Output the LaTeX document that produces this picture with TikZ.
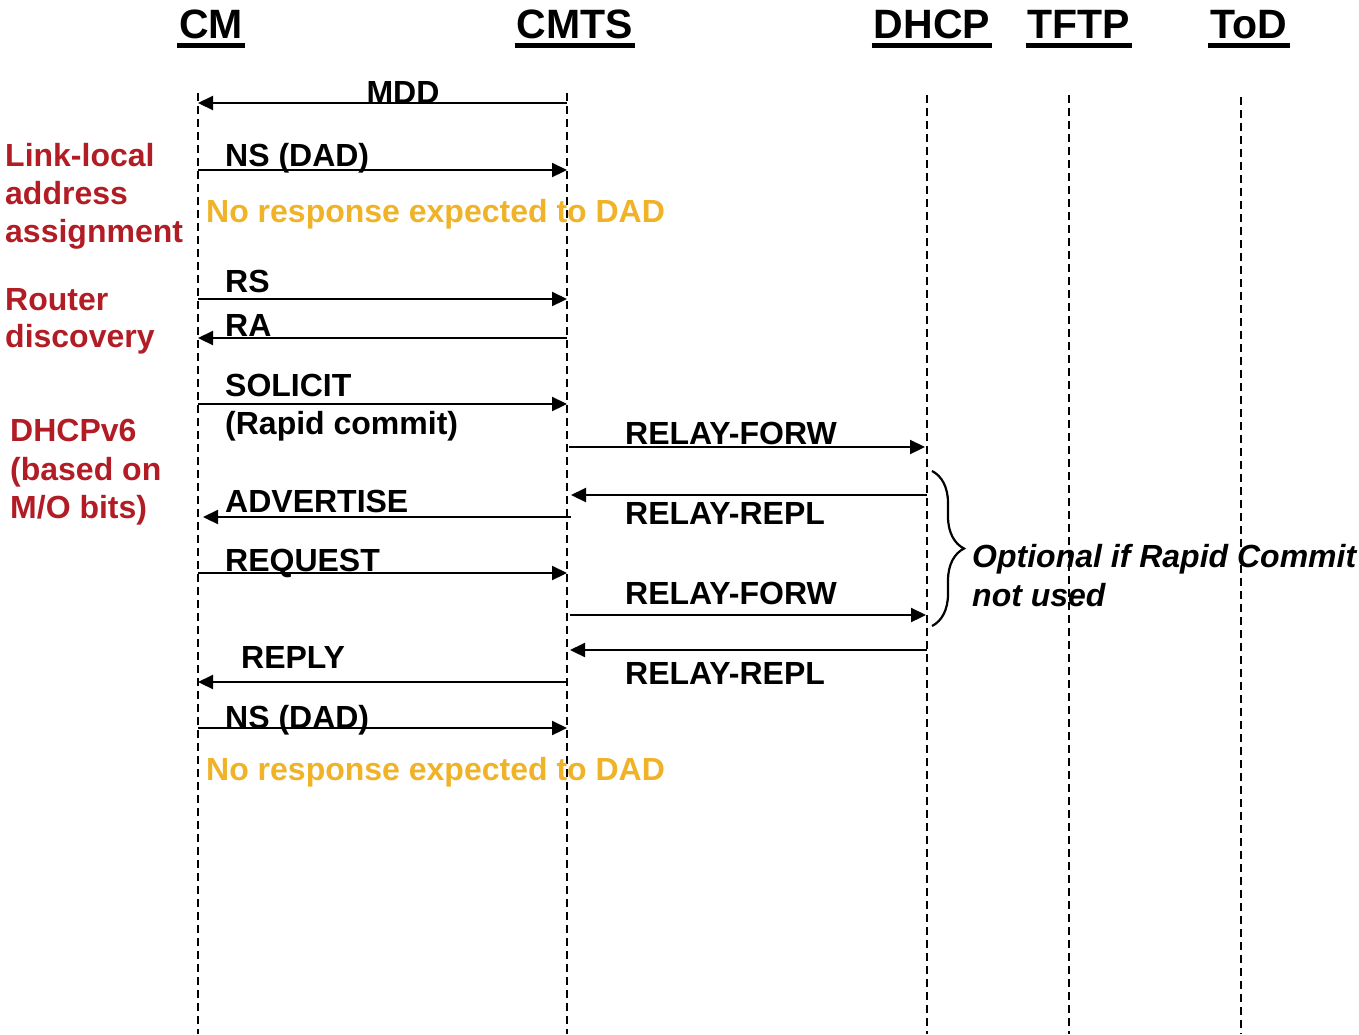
\documentclass[tikz,border=0pt]{standalone}
\usepackage{fontspec}
\setmainfont{Liberation Sans}
\usetikzlibrary{arrows.meta,decorations.pathreplacing}
\definecolor{stagered}{RGB}{178,28,36}
\definecolor{noteamber}{RGB}{240,178,38}
\begin{document}
\begin{tikzpicture}[x=1pt,y=-1pt,
  head/.style={font=\fontsize{41}{48}\selectfont\bfseries, inner sep=0pt, anchor=base},
  headline/.style={line width=4.5pt},
  lbl/.style={font=\fontsize{32}{38}\selectfont\bfseries, inner sep=0pt, anchor=base west},
  midlbl/.style={lbl, anchor=base},
  phase/.style={lbl, text=stagered},
  note/.style={lbl, text=noteamber},
  remark/.style={lbl, font=\fontsize{32}{38}\selectfont\bfseries\itshape},
  life/.style={line width=1.8pt, dash pattern=on 8pt off 5pt},
  msg/.style={line width=2.2pt, -{Triangle[length=15pt,width=14pt]}},
  bracestyle/.style={line width=2.2pt, decorate, decoration={brace, amplitude=32pt}}
]
\useasboundingbox (0,0) rectangle (1359,1034);

% entity headings with underlines
\foreach \nm/\x/\t in {cm/211/CM, cmts/575/CMTS, dhcp/932/DHCP, tftp/1079/TFTP, tod/1249/ToD}{
  \node[head] (\nm) at (\x,38) {\t};
  \draw[headline] ([xshift=-2pt,yshift=-7.5pt]\nm.base west) -- ([xshift=2pt,yshift=-7.5pt]\nm.base east);
}

% lifelines
\coordinate (cmL) at (198,93);
\coordinate (cmtsL) at (567,93);
\coordinate (dhcpL) at (927,95);
\coordinate (tftpL) at (1069,95);
\coordinate (todL) at (1241,97);
\foreach \c in {cmL,cmtsL,dhcpL,tftpL,todL}
  \draw[life] (\c) -- (\c |- 0,1034);

% phase labels
\node[phase] (ll1) at (5,166) {Link-local};
\node[phase] (ll2) at (5,204) {address};
\node[phase] (ll3) at (5,242) {assignment};
\node[phase] (rd1) at (5,310) {Router};
\node[phase] (rd2) at (5,347) {discovery};
\node[phase] (dh1) at (10,441) {DHCPv6};
\node[phase] (dh2) at (10,480) {(based on};
\node[phase] (dh3) at (10,518) {M/O bits)};

% messages
\draw[msg] (cmtsL |- 0,103) -- (cmL |- 0,103);
\node[midlbl] (mdd) at (403,103) {MDD};

\draw[msg] (cmL |- 0,170) -- (cmtsL |- 0,170);
\node[lbl] (ns1) at (225,166) {NS (DAD)};
\node[note] (nr1) at (206,222) {No response expected to DAD};

\draw[msg] (cmL |- 0,299) -- (cmtsL |- 0,299);
\node[lbl] (rs) at (225,292) {RS};
\draw[msg] (cmtsL |- 0,338) -- (cmL |- 0,338);
\node[lbl] (ra) at (225,336) {RA};

\draw[msg] (cmL |- 0,404) -- (cmtsL |- 0,404);
\node[lbl] (sol) at (225,396) {SOLICIT};
\node[lbl] (rc) at (225,434) {(Rapid commit)};

\draw[msg] ([xshift=2pt]cmtsL |- 0,447) -- ([xshift=-2pt]dhcpL |- 0,447);
\node[lbl] (rf1) at (625,444) {RELAY-FORW};
\draw[msg] (dhcpL |- 0,495) -- ([xshift=4pt]cmtsL |- 0,495);
\node[lbl] (rr1) at (625,524) {RELAY-REPL};

\draw[msg] ([xshift=4pt]cmtsL |- 0,517) -- ([xshift=5pt]cmL |- 0,517);
\node[lbl] (adv) at (225,512) {ADVERTISE};

\draw[msg] (cmL |- 0,573) -- (cmtsL |- 0,573);
\node[lbl] (req) at (225,571) {REQUEST};

\draw[msg] ([xshift=3pt]cmtsL |- 0,615) -- ([xshift=-1pt]dhcpL |- 0,615);
\node[lbl] (rf2) at (625,604) {RELAY-FORW};
\draw[msg] (dhcpL |- 0,650) -- ([xshift=3pt]cmtsL |- 0,650);
\node[lbl] (rr2) at (625,684) {RELAY-REPL};

\draw[msg] (cmtsL |- 0,682) -- (cmL |- 0,682);
\node[lbl] (rep) at (241,668) {REPLY};

\draw[msg] (cmL |- 0,728) -- (cmtsL |- 0,728);
\node[lbl] (ns2) at (225,728) {NS (DAD)};
\node[note] (nr2) at (206,780) {No response expected to DAD};

% optional exchange bracket
\coordinate (brtop) at (932,471);
\coordinate (brbot) at (932,626);
\draw[bracestyle] (brtop) -- (brbot);
\node[remark] (opt1) at (972,567) {Optional if Rapid Commit};
\node[remark] (opt2) at (972,606) {not used};
\end{tikzpicture}
\end{document}
